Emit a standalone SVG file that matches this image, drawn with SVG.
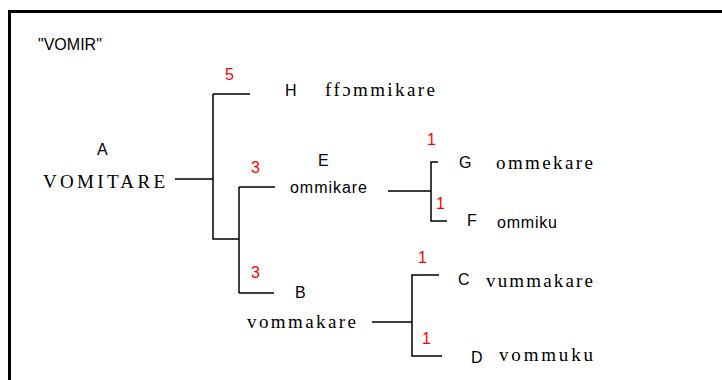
<svg xmlns="http://www.w3.org/2000/svg" width="722" height="380" viewBox="0 0 722 380">
  <style>
    .sans { font-family: "Liberation Sans", Arial, sans-serif; font-size: 16px; fill: #000; }
    .serif { font-family: "Liberation Serif", "Times New Roman", serif; font-size: 19px; fill: #000; }
    .num { font-family: "Liberation Sans", Arial, sans-serif; font-size: 16px; fill: #ff0000; }
    .edge { fill: none; stroke: #000; stroke-width: 1.5; }
  </style>
  <rect width="722" height="380" fill="#fff"/>
  <path d="M9.5,380 V11.5 H722" fill="none" stroke="#000" stroke-width="3"/>
  <text id="title" class="sans" x="38" y="50" font-size="13">"VOMIR"</text>

  <g id="connectors">
    <path class="edge" d="M175,179 H213 M213,94 H250 M213,94 V239 H239 M239,187 V293 M239,187 H275 M239,293 H274"/>
    <path class="edge" d="M388,191 H431 M438,162 H431 V221 H447"/>
    <path class="edge" d="M372,322 H412 M439,275 H412 V356 H442"/>
    <text class="num" x="225" y="80">5</text>
    <text class="num" x="251" y="173">3</text>
    <text class="num" x="251" y="278">3</text>
    <text class="num" x="427" y="145">1</text>
    <text class="num" x="436" y="209">1</text>
    <text class="num" x="418" y="263">1</text>
    <text class="num" x="422" y="344">1</text>
  </g>

  <g id="node-A">
    <text class="sans" x="97" y="155">A</text>
    <text class="serif" x="43" y="188" textLength="122" lengthAdjust="spacing">VOMITARE</text>
  </g>
  <g id="node-H">
    <text class="sans" x="285" y="96">H</text>
    <text class="serif" x="325" y="96" textLength="110" lengthAdjust="spacing">ffɔmmikare</text>
  </g>
  <g id="node-E">
    <text class="sans" x="318" y="166">E</text>
    <text class="sans" x="290" y="193" textLength="77" lengthAdjust="spacing">ommikare</text>
  </g>
  <g id="node-G">
    <text class="sans" x="459" y="168">G</text>
    <text class="serif" x="496" y="169" textLength="97" lengthAdjust="spacing">ommekare</text>
  </g>
  <g id="node-F">
    <text class="sans" x="467" y="226">F</text>
    <text class="sans" x="497" y="228" textLength="60" lengthAdjust="spacing">ommiku</text>
  </g>
  <g id="node-B">
    <text class="sans" x="295" y="298">B</text>
    <text class="serif" x="247" y="328" textLength="109" lengthAdjust="spacing">vommakare</text>
  </g>
  <g id="node-C">
    <text class="sans" x="458" y="285">C</text>
    <text class="serif" x="486" y="287" textLength="107" lengthAdjust="spacing">vummakare</text>
  </g>
  <g id="node-D">
    <text class="sans" x="471" y="363">D</text>
    <text class="serif" x="499" y="361" textLength="94" lengthAdjust="spacing">vommuku</text>
  </g>
</svg>
